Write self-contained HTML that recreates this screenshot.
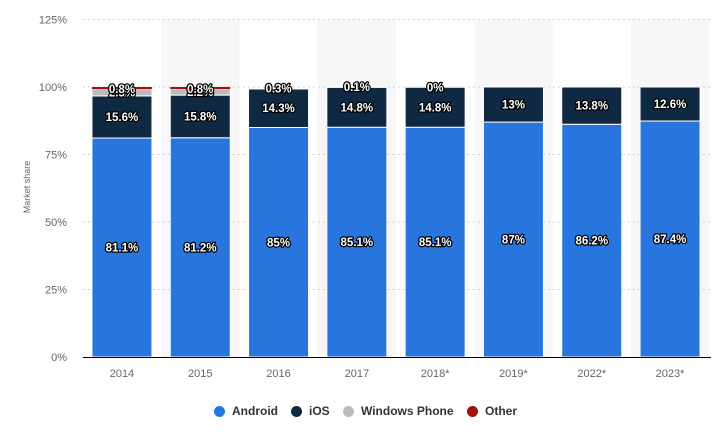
<!DOCTYPE html>
<html><head><meta charset="utf-8"><style>
body{margin:0;background:#fff;font-family:"Liberation Sans",sans-serif;}
#wrap{position:relative;width:724px;height:442px;}
.leg{position:absolute;top:404px;font-size:12px;font-weight:bold;color:#333;display:flex;align-items:center;}
.dot{width:11px;height:11px;border-radius:50%;display:inline-block;margin-right:7px;}
</style></head><body>
<div id="wrap">
<svg id="svg" width="724" height="442"></svg>
<div class="leg" style="left:214px"><span class="dot" style="background:#2876dd"></span>Android</div>
<div class="leg" style="left:291px"><span class="dot" style="background:#0f2942"></span>iOS</div>
<div class="leg" style="left:343px"><span class="dot" style="background:#bbb"></span>Windows Phone</div>
<div class="leg" style="left:467px"><span class="dot" style="background:#a50f0f"></span>Other</div>
</div>
<script>
const categories=["2014","2015","2016","2017","2018*","2019*","2022*","2023*"];
const android=[81.1,81.2,85,85.1,85.1,87,86.2,87.4];
const ios=[15.6,15.8,14.3,14.8,14.8,13,13.8,12.6];
const windows=[2.5,2.2,0.3,0.1,0,0,0,0];
const other=[0.8,0.8,0,0,0,0,0,0];
const winLabels=["2.5%","2.2%","0.3%","0.1%","0%","","",""];
const yTicks=[0,25,50,75,100,125];
const ns="http://www.w3.org/2000/svg";
const svg=document.getElementById('svg');
const y0=357,pxPer=270/100,x0=82.8,colW=78.3,barW=60;
function y(v){return y0-v*pxPer;}
function cx(i){return x0+colW*(i+0.5);}
function mk(t,a,p){const e=document.createElementNS(ns,t);for(const k in a)e.setAttribute(k,a[k]);(p||svg).appendChild(e);return e;}
categories.forEach((c,i)=>{if(i%2===1){const r=mk('rect',{x:x0+colW*i,y:y(125),width:colW,height:y0-y(125),fill:'#f7f7f7'});

}});
yTicks.forEach(t=>{if(t>0){const l=mk('line',{x1:x0,x2:711,y1:y(t),y2:y(t),stroke:'#ccc','stroke-dasharray':'2,3'});

}
const tx=mk('text',{x:67,y:y(t)+4,'text-anchor':'end','font-size':11,fill:'#666'});tx.textContent=t+'%';

});
const yt=mk('text',{x:0,y:0,transform:'translate(30,187) rotate(-90)','text-anchor':'middle','font-size':9,fill:'#666'});yt.textContent='Market share';


function lab(x,yy,txt){const t=mk('text',{x:x,y:yy+4,'text-anchor':'middle','font-size':11.5,'font-weight':'bold',fill:'#fff',stroke:'#000','stroke-width':2.5,'paint-order':'stroke','stroke-linejoin':'round'});t.textContent=txt;

}
categories.forEach((c,i)=>{
const x=cx(i)-barW/2;let base=0;
const segs=[[android[i],'#2876dd','bar-android'],[ios[i],'#0f2942','bar-ios'],[windows[i],'#bbb','bar-windows-phone'],[other[i],'#a50f0f','bar-other']];
segs.forEach(s=>{if(s[0]<=0)return;const r=mk('rect',{x:x,y:y(base+s[0]),width:barW,height:s[0]*pxPer,fill:s[1],stroke:'#fff','stroke-width':s[2]==='bar-other'?0:1});

base+=s[0];});
lab(cx(i),y(android[i]/2),android[i]+'%');
lab(cx(i),y(android[i]+ios[i]/2),ios[i]+'%');
if(winLabels[i])lab(cx(i),y(android[i]+ios[i]+windows[i]/2),winLabels[i]);
if(other[i]>0)lab(cx(i),y(100)+2,other[i]+'%');
const xt=mk('text',{x:cx(i),y:y0+20,'text-anchor':'middle','font-size':11,fill:'#666'});xt.textContent=c;

});
const ax=mk('line',{x1:83,x2:711,y1:y0+0.5,y2:y0+0.5,stroke:'#000','stroke-width':1});


</script>
</body></html>
